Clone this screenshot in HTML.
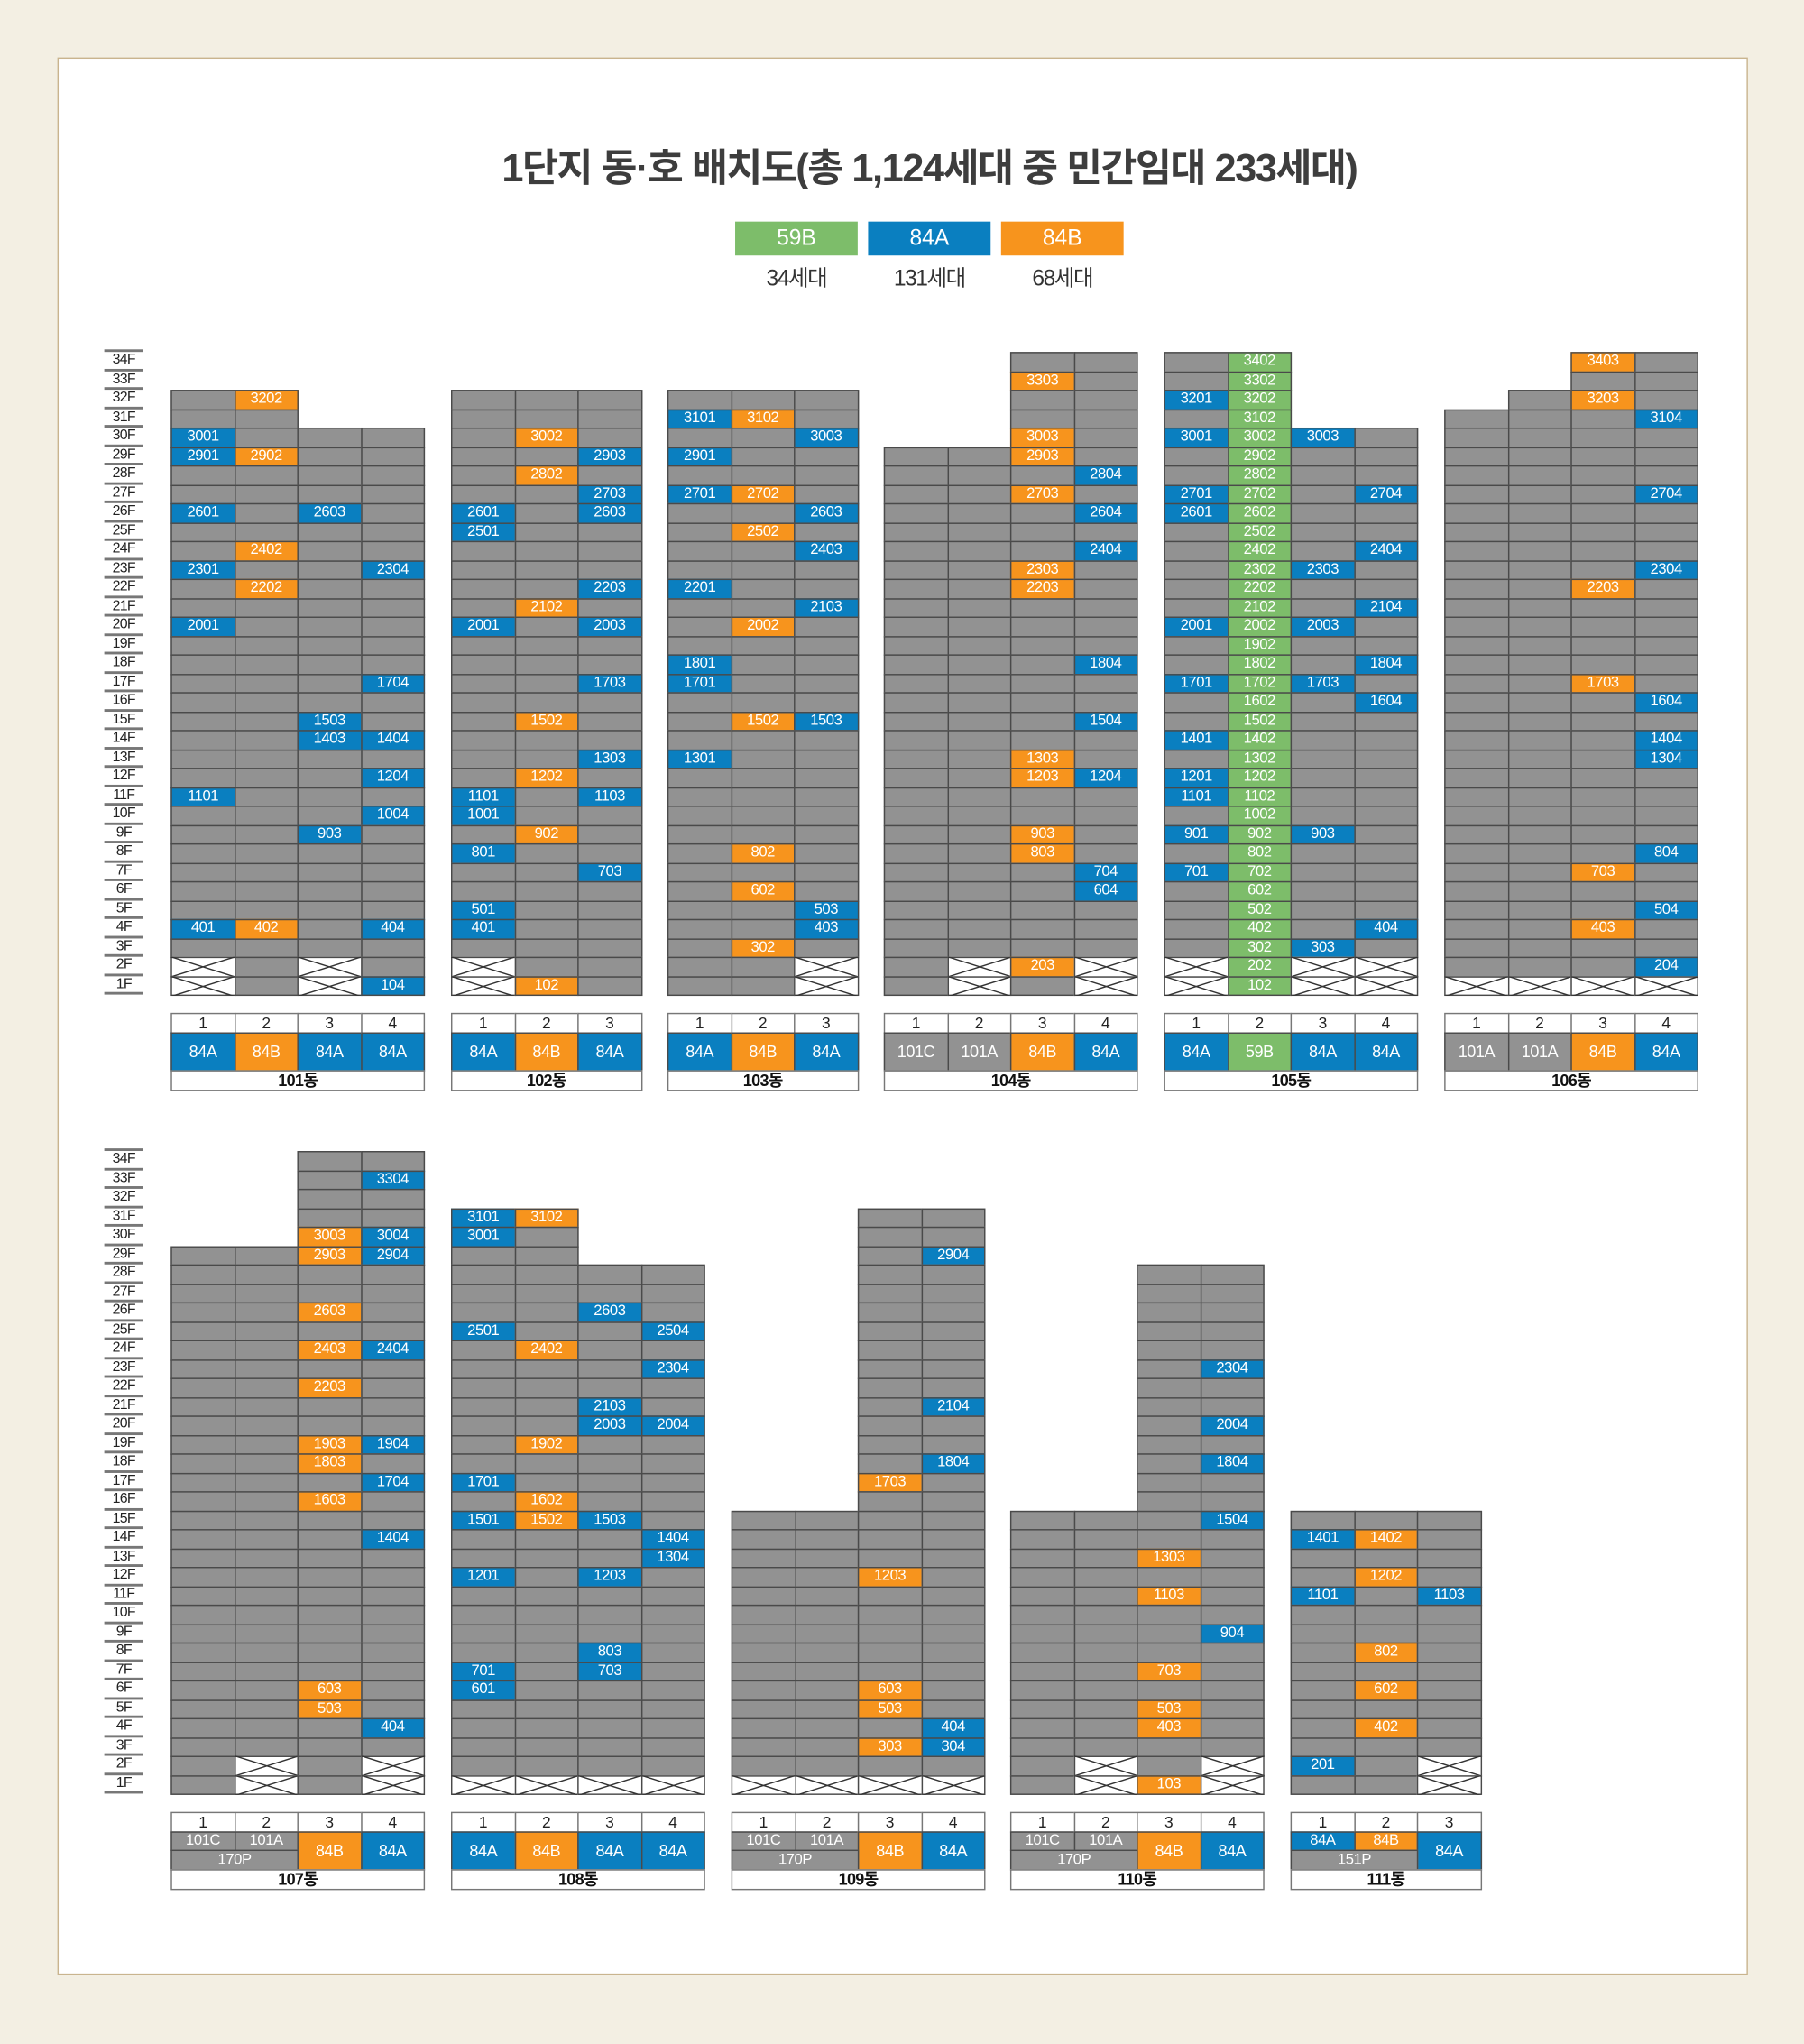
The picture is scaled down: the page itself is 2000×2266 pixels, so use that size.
<!DOCTYPE html>
<html><head><meta charset="utf-8">
<style>
html,body{margin:0;padding:0;background:#f3efe3;}
body{width:2000px;height:2266px;overflow:hidden;position:relative;}
#w{position:absolute;left:0;top:0;width:1384px;height:1568px;transform:scale(1.44509);transform-origin:0 0;font-family:"Liberation Sans","Noto Sans CJK KR",sans-serif;}
#box{position:absolute;left:44px;top:44px;width:1295px;height:1469px;background:#fff;border:1px solid #c9b48e;}
.a{position:absolute;box-sizing:border-box;}
.c{border:1px solid #4a4a4a;color:#fff;font-size:11.5px;text-align:center;letter-spacing:-0.3px;}
.fl{font-size:11px;color:#222;text-align:center;border-bottom:2px solid #777;letter-spacing:-0.5px;}
</style></head><body>
<div id="w">
<div id="box"></div>
<div class="a" style="left:0;width:1426px;top:104px;text-align:center;font-size:30px;font-weight:bold;color:#3d3d3d;letter-spacing:-1px;">1단지 동·호 배치도(총 1,124세대 중 민간임대 233세대)</div>
<div class="a" style="left:564px;top:170px;width:94px;height:26px;background:#7dbd6a;color:#fff;font-size:17px;text-align:center;line-height:26px;">59B</div>
<div class="a" style="left:666px;top:170px;width:94px;height:26px;background:#0a7fc0;color:#fff;font-size:17px;text-align:center;line-height:26px;">84A</div>
<div class="a" style="left:768px;top:170px;width:94px;height:26px;background:#f7941d;color:#fff;font-size:17px;text-align:center;line-height:26px;">84B</div>
<div class="a" style="left:564px;top:199px;width:94px;text-align:center;font-size:17px;color:#333;letter-spacing:-1px;">34세대</div>
<div class="a" style="left:666px;top:199px;width:94px;text-align:center;font-size:17px;color:#333;letter-spacing:-1px;">131세대</div>
<div class="a" style="left:768px;top:199px;width:94px;text-align:center;font-size:17px;color:#333;letter-spacing:-1px;">68세대</div>
<div id="g"></div>
</div>
<script>
var W=document.getElementById('w');
var RH=14.5,CW=48.5;
var COL={'84A':'#0a7fc0','84B':'#f7941d','59B':'#7dbd6a'},GR='#929292';
function d(x,y,w,h,cls,st,t){var e=document.createElement('div');e.className='a '+(cls||'');e.style.cssText='left:'+x+'px;top:'+y+'px;width:'+w+'px;height:'+h+'px;'+(st||'');if(t!==undefined)e.textContent=t;W.appendChild(e);return e;}
function xcell(x,y,w,h){var e=d(x,y,w,h,'','background:#fff;border:1px solid #4a4a4a;');e.innerHTML='<svg width="'+w+'" height="'+h+'" style="position:absolute;left:-1px;top:-1px"><line x1="0" y1="0" x2="'+w+'" y2="'+h+'" stroke="#333" stroke-width="1"/><line x1="0" y1="'+h+'" x2="'+w+'" y2="0" stroke="#333" stroke-width="1"/></svg>';}
function floors(base){for(var f=34;f>=1;f--){d(80,base+(34-f)*RH,30,RH,'fl','line-height:13px;',f+'F');}d(80,base-2,30,2,'','background:#777;');}
function bld(b,base,ty){
 for(var c=0;c<b.t.length;c++){
  var x=b.x+c*CW,ct=b.t[c];
  for(var f=b.top[c];f>=1;f--){
   var y=base+(34-f)*RH;
   if(b.X[c]&&b.X[c].indexOf(f)>=0){xcell(x,y,CW+1,RH+1);continue;}
   var col=(b.all===c)||(b.h[c]&&b.h[c].indexOf(f)>=0);
   var lab=f+(c+1<10?'0':'')+(c+1);
   d(x,y,CW+1,RH+1,'c','line-height:13px;background:'+(col?COL[ct]:GR)+';',col?lab:'');
  }
 }
 var n=b.t.length,tw=n*CW;
 for(var c=0;c<n;c++){
  var x=b.x+c*CW;
  d(x,ty,CW+1,16,'','border:1px solid #777;background:#fff;font-size:12px;text-align:center;line-height:14px;color:#222;',''+(c+1));
  if(b.sp&&c<2){
   d(x,ty+15,CW+1,15,'c','font-size:11.5px;line-height:13px;background:'+(COL[b.t[c]]||GR)+';',b.sp[c]);
  } else d(x,ty+15,CW+1,30,'c','font-size:12.5px;line-height:28px;background:'+(COL[b.t[c]]||GR)+';',b.t[c]);
 }
 if(b.sp)d(b.x,ty+29,2*CW+1,16,'c','font-size:11.5px;line-height:14px;background:'+GR+';',b.mp);
 d(b.x,ty+44,tw+1,16,'','border:1px solid #777;background:#fff;font-size:12.5px;text-align:center;line-height:14px;color:#111;font-weight:bold;letter-spacing:-0.5px;',b.n);
}
var T=[
{x:131,n:'101동',t:['84A','84B','84A','84A'],top:[32,32,30,30],X:[[2,1],[],[2,1],[]],h:[[30,29,26,23,20,11,4],[32,29,24,22,4],[26,15,14,9],[23,17,14,12,10,4,1]]},
{x:346,n:'102동',t:['84A','84B','84A'],top:[32,32,32],X:[[2,1],[],[]],h:[[26,25,20,11,10,8,5,4],[30,28,21,15,12,9,1],[29,27,26,22,20,17,13,11,7]]},
{x:512,n:'103동',t:['84A','84B','84A'],top:[32,32,32],X:[[],[],[2,1]],h:[[31,29,27,22,18,17,13],[31,27,25,20,15,8,6,3],[30,26,24,21,15,5,4]]},
{x:678,n:'104동',t:['101C','101A','84B','84A'],top:[29,29,34,34],X:[[],[2,1],[],[2,1]],h:[[],[],[33,30,29,27,23,22,13,12,9,8,2],[28,26,24,18,15,12,7,6]]},
{x:893,n:'105동',t:['84A','59B','84A','84A'],top:[34,34,30,30],X:[[2,1],[],[2,1],[2,1]],all:1,h:[[32,30,27,26,20,17,14,12,11,9,7],[],[30,23,20,17,9,3],[27,24,21,18,16,4]]},
{x:1108,n:'106동',t:['101A','101A','84B','84A'],top:[31,32,34,34],X:[[1],[1],[1],[1]],h:[[],[],[34,32,22,17,7,4],[31,27,23,16,14,13,8,5,2]]}
];
var B2=[
{x:131,n:'107동',t:['101C','101A','84B','84A'],sp:['101C','101A'],mp:'170P',top:[29,29,34,34],X:[[],[2,1],[],[2,1]],h:[[],[],[30,29,26,24,22,19,18,16,6,5],[33,30,29,24,19,17,14,4]]},
{x:346,n:'108동',t:['84A','84B','84A','84A'],top:[31,31,28,28],X:[[1],[1],[1],[1]],h:[[31,30,25,17,15,12,7,6],[31,24,19,16,15],[26,21,20,15,12,8,7],[25,23,20,14,13]]},
{x:561,n:'109동',t:['101C','101A','84B','84A'],sp:['101C','101A'],mp:'170P',top:[15,15,31,31],X:[[1],[1],[1],[1]],h:[[],[],[17,12,6,5,3],[29,21,18,4,3]]},
{x:775,n:'110동',t:['101C','101A','84B','84A'],sp:['101C','101A'],mp:'170P',top:[15,15,28,28],X:[[],[2,1],[],[2,1]],h:[[],[],[13,11,7,5,4,1],[23,20,18,15,9]]},
{x:990,n:'111동',t:['84A','84B','84A'],sp:['84A','84B'],mp:'151P',top:[15,15,15],X:[[],[],[2,1]],h:[[14,11,2],[14,12,8,6,4],[11]]}
];
floors(270);floors(883);
T.forEach(function(b){bld(b,270,777);});
B2.forEach(function(b){bld(b,883,1390);});
</script>
</body></html>
